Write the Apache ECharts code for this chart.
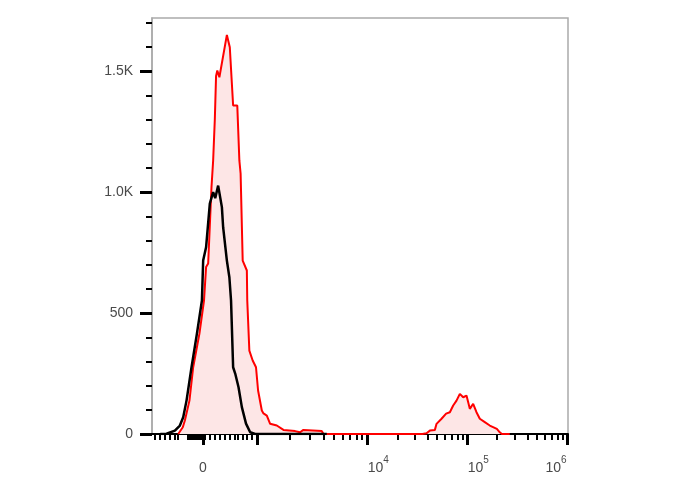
<!DOCTYPE html>
<html>
<head>
<meta charset="utf-8">
<script src="https://cdn.jsdelivr.net/npm/echarts@6/dist/echarts.min.js"></script>
<style>
html,body{margin:0;padding:0;background:#fff;}
#chart{width:688px;height:490px;}
</style>
</head>
<body>
<div id="chart"></div>
<script>
// x values are display channels (0..1000 across the biexponential axis)
const redX = [63, 67, 74, 79, 90, 99, 114, 125, 130, 135, 143, 147, 151, 154, 157, 162, 180, 187, 195, 199, 205, 210, 213, 218, 228, 229, 234, 242, 250, 255, 264, 268, 276, 284, 300, 316, 344, 356, 364, 408, 412, 420, 650, 660, 668, 680, 684, 688, 696, 707, 716, 724, 732, 740, 748, 756, 764, 772, 780, 788, 800, 812, 829, 836, 841, 860];
const redY = [0, 7, 28, 56, 138, 276, 415, 552, 690, 705, 1020, 1131, 1300, 1480, 1503, 1475, 1650, 1599, 1358, 1351, 1358, 1131, 1077, 717, 676, 552, 345, 304, 276, 180, 97, 85, 76, 42, 35, 17, 12, 7, 17, 12, 1, 0, 0, 3, 14, 17, 42, 35, 63, 84, 90, 118, 138, 166, 152, 159, 104, 125, 90, 63, 49, 35, 21, 7, 0, 0];
const blackX = [20, 35, 55, 67, 75, 83, 95, 108, 120, 123, 130, 139, 147, 152, 159, 168, 171, 180, 186, 190, 195, 200, 208, 216, 226, 236, 248, 420];
const blackY = [0, 1, 14, 35, 69, 138, 276, 415, 552, 717, 772, 953, 1000, 975, 1027, 938, 855, 717, 648, 552, 276, 250, 193, 111, 43, 7, 0, 0];

// axis: channel positions of decades and linear-region ticks
const decadeCh = [252, 517.3, 757.7, 997.6];           // 10^3, 10^4, 10^5, 10^6
const zeroCh = 122.6;                                   // 0
const linearTicks = [7, 19, 31, 43, 54, 63, 86, 90, 94, 98, 102, 106, 110, 114, 118, 127, 139, 151, 163, 175, 187, 198, 207, 217, 228, 240];
const xLabelVals = [zeroCh, 517.3, 757.7, 997.6];
const xLabelText = ['0', '10^4', '10^5', '10^6'];
const yMajor = [0, 500, 1000, 1500];
const yLabels = ['0', '500', '1.0K', '1.5K'];
const yMinor = [100, 200, 300, 400, 600, 700, 800, 900, 1100, 1200, 1300, 1400, 1600, 1700];

const majorX = [zeroCh].concat(decadeCh);
const minorX = linearTicks.slice();
for (let d = 0; d < decadeCh.length - 1; d++) {
  for (let k = 2; k <= 9; k++) {
    minorX.push(decadeCh[d] + Math.log10(k) * (decadeCh[d + 1] - decadeCh[d]));
  }
}

const zip = (xs, ys) => xs.map((x, i) => [x, ys[i]]);
const FONT = 'Liberation Sans';
const LC = '#4a4a4a';

const chart = echarts.init(document.getElementById('chart'));
chart.setOption({
  animation: false,
  backgroundColor: '#fff',
  grid: { left: 152, right: 120, top: 18, bottom: 56, show: true, borderColor: '#aaa', borderWidth: 1.5, backgroundColor: 'transparent' },
  xAxis: [
    {
      type: 'value', min: 0, max: 1000, position: 'bottom',
      axisLine: { show: true, lineStyle: { color: '#000', width: 2 } },
      splitLine: { show: false },
      axisTick: { show: true, customValues: majorX, length: 11, lineStyle: { color: '#000', width: 3 } },
      axisLabel: {
        show: true, customValues: xLabelVals, margin: 21, color: LC, fontFamily: FONT, fontSize: 14,
        formatter: function (v) {
          let i = 0, best = 1e9;
          xLabelVals.forEach((lv, j) => { if (Math.abs(lv - v) < best) { best = Math.abs(lv - v); i = j; } });
          const t = xLabelText[i];
          if (t === '0') return '{z|0}';
          const exp = t.split('^')[1];
          if (exp === '6') return '{b|10}{sr|' + exp + '}';
          return '{al|10}{s|' + exp + '}';
        },
        rich: {
          z: { fontSize: 14, fontFamily: FONT, color: LC, lineHeight: 20, verticalAlign: 'bottom' },
          al: { fontSize: 14, fontFamily: FONT, color: LC, lineHeight: 20, verticalAlign: 'bottom', padding: [0, 0, 0, 22] },
          b: { fontSize: 14, fontFamily: FONT, color: LC, lineHeight: 20, verticalAlign: 'bottom' },
          s: { fontSize: 10, fontFamily: FONT, color: LC, lineHeight: 20, verticalAlign: 'top' },
          sr: { fontSize: 10, fontFamily: FONT, color: LC, lineHeight: 20, verticalAlign: 'top', padding: [0, 22, 0, 0] }
        }
      }
    },
    {
      type: 'value', min: 0, max: 1000, position: 'bottom', offset: 0,
      axisLine: { show: false },
      splitLine: { show: false },
      axisTick: { show: true, customValues: minorX, length: 6, lineStyle: { color: '#000', width: 2 } },
      axisLabel: { show: false }
    }
  ],
  yAxis: [
    {
      type: 'value', min: 0, max: 1720, position: 'left',
      axisLine: { show: true, lineStyle: { color: '#aaa', width: 1.5 } },
      splitLine: { show: false },
      axisTick: { show: true, customValues: yMajor, length: 12, lineStyle: { color: '#000', width: 3 } },
      axisLabel: {
        show: true, customValues: yMajor, margin: 19, color: LC, fontFamily: FONT, fontSize: 14,
        formatter: function (v) { const i = yMajor.indexOf(v); return i >= 0 ? yLabels[i] : ''; }
      }
    },
    {
      type: 'value', min: 0, max: 1720, position: 'left', offset: 0,
      axisLine: { show: false },
      splitLine: { show: false },
      axisTick: { show: true, customValues: yMinor, length: 6, lineStyle: { color: '#000', width: 2 } },
      axisLabel: { show: false }
    }
  ],
  series: [
    {
      type: 'line', xAxisIndex: 0, yAxisIndex: 0, data: zip(redX, redY), symbol: 'none',
      lineStyle: { color: '#ff0000', width: 2 },
      areaStyle: { color: '#fde6e6', opacity: 1 },
      z: 2
    },
    {
      type: 'line', xAxisIndex: 0, yAxisIndex: 0, data: zip(blackX, blackY), symbol: 'none',
      lineStyle: { color: '#000', width: 2.5 },
      z: 3
    }
  ]
});
</script>
</body>
</html>
